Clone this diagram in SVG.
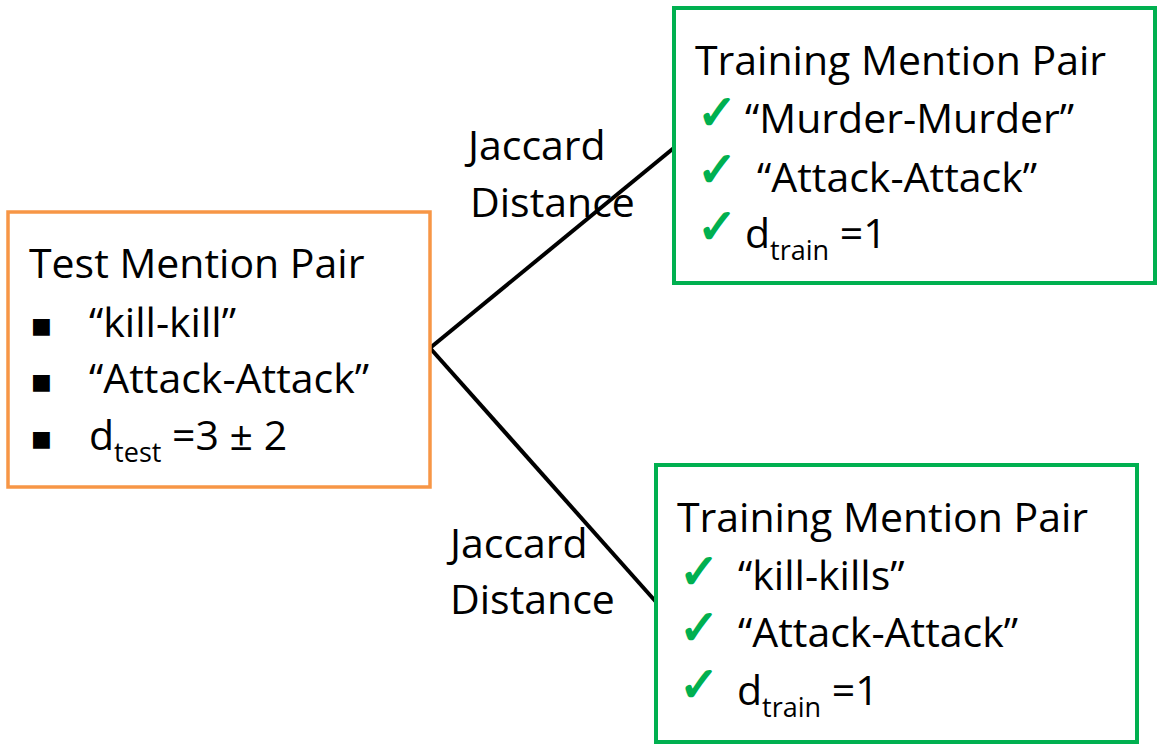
<svg xmlns="http://www.w3.org/2000/svg" width="1163" height="744" viewBox="0 0 1163 744">
<style>
.t{font-family:"Open Sans","Noto Sans",sans-serif;font-size:41px;fill:#000}
.sub{font-size:27px}
.chk{font-family:"DejaVu Sans",sans-serif;font-size:48px;fill:#00B050;stroke:#00B050;stroke-width:1.6}
.sq{font-family:"DejaVu Sans",sans-serif;font-size:22px;fill:#000}
.orange{fill:#fff;stroke:#F79646;stroke-width:3.5}
.green{fill:#fff;stroke:#00B050;stroke-width:4}
.conn{stroke:#000;stroke-width:4;fill:none}
</style>
<rect width="1163" height="744" fill="#fff"/>
<g id="connectors">
<line class="conn" x1="430" y1="348" x2="675" y2="147"/>
<line class="conn" x1="430" y1="348" x2="657" y2="603"/>
<text class="t" x="468" y="160">Jaccard</text>
<text class="t" x="470" y="217">Distance</text>
<text class="t" x="450" y="558">Jaccard</text>
<text class="t" x="450" y="614">Distance</text>
</g>
<g id="test-pair">
<rect class="orange" x="8" y="212" width="422" height="275"/>
<text class="t" x="29" y="278">Test Mention Pair</text>
<text class="sq" x="31" y="333">■</text>
<text class="t" x="89" y="337">“kill-kill”</text>
<text class="sq" x="31" y="389">■</text>
<text class="t" x="89" y="393">“Attack-Attack”</text>
<text class="sq" x="31" y="446">■</text>
<text class="t" x="89" y="450">d<tspan class="sub" dy="12">test</tspan><tspan dy="-12"> =3 ± 2</tspan></text>
</g>
<g id="train-pair-1">
<rect class="green" x="674" y="8" width="481" height="275"/>
<text class="t" x="695" y="75">Training Mention Pair</text>
<text class="chk" x="697" y="129">✓</text>
<text class="t" x="745" y="133">“Murder-Murder”</text>
<text class="chk" x="697" y="186">✓</text>
<text class="t" x="757" y="192">“Attack-Attack”</text>
<text class="chk" x="697" y="243">✓</text>
<text class="t" x="745" y="248">d<tspan class="sub" dy="12">train</tspan><tspan dy="-12"> =1</tspan></text>
</g>
<g id="train-pair-2">
<rect class="green" x="656" y="465" width="481" height="277"/>
<text class="t" x="677" y="532">Training Mention Pair</text>
<text class="chk" x="679" y="588">✓</text>
<text class="t" x="738" y="590">“kill-kills”</text>
<text class="chk" x="679" y="644">✓</text>
<text class="t" x="738" y="647">“Attack-Attack”</text>
<text class="chk" x="679" y="701">✓</text>
<text class="t" x="737" y="705">d<tspan class="sub" dy="12">train</tspan><tspan dy="-12"> =1</tspan></text>
</g>
</svg>
